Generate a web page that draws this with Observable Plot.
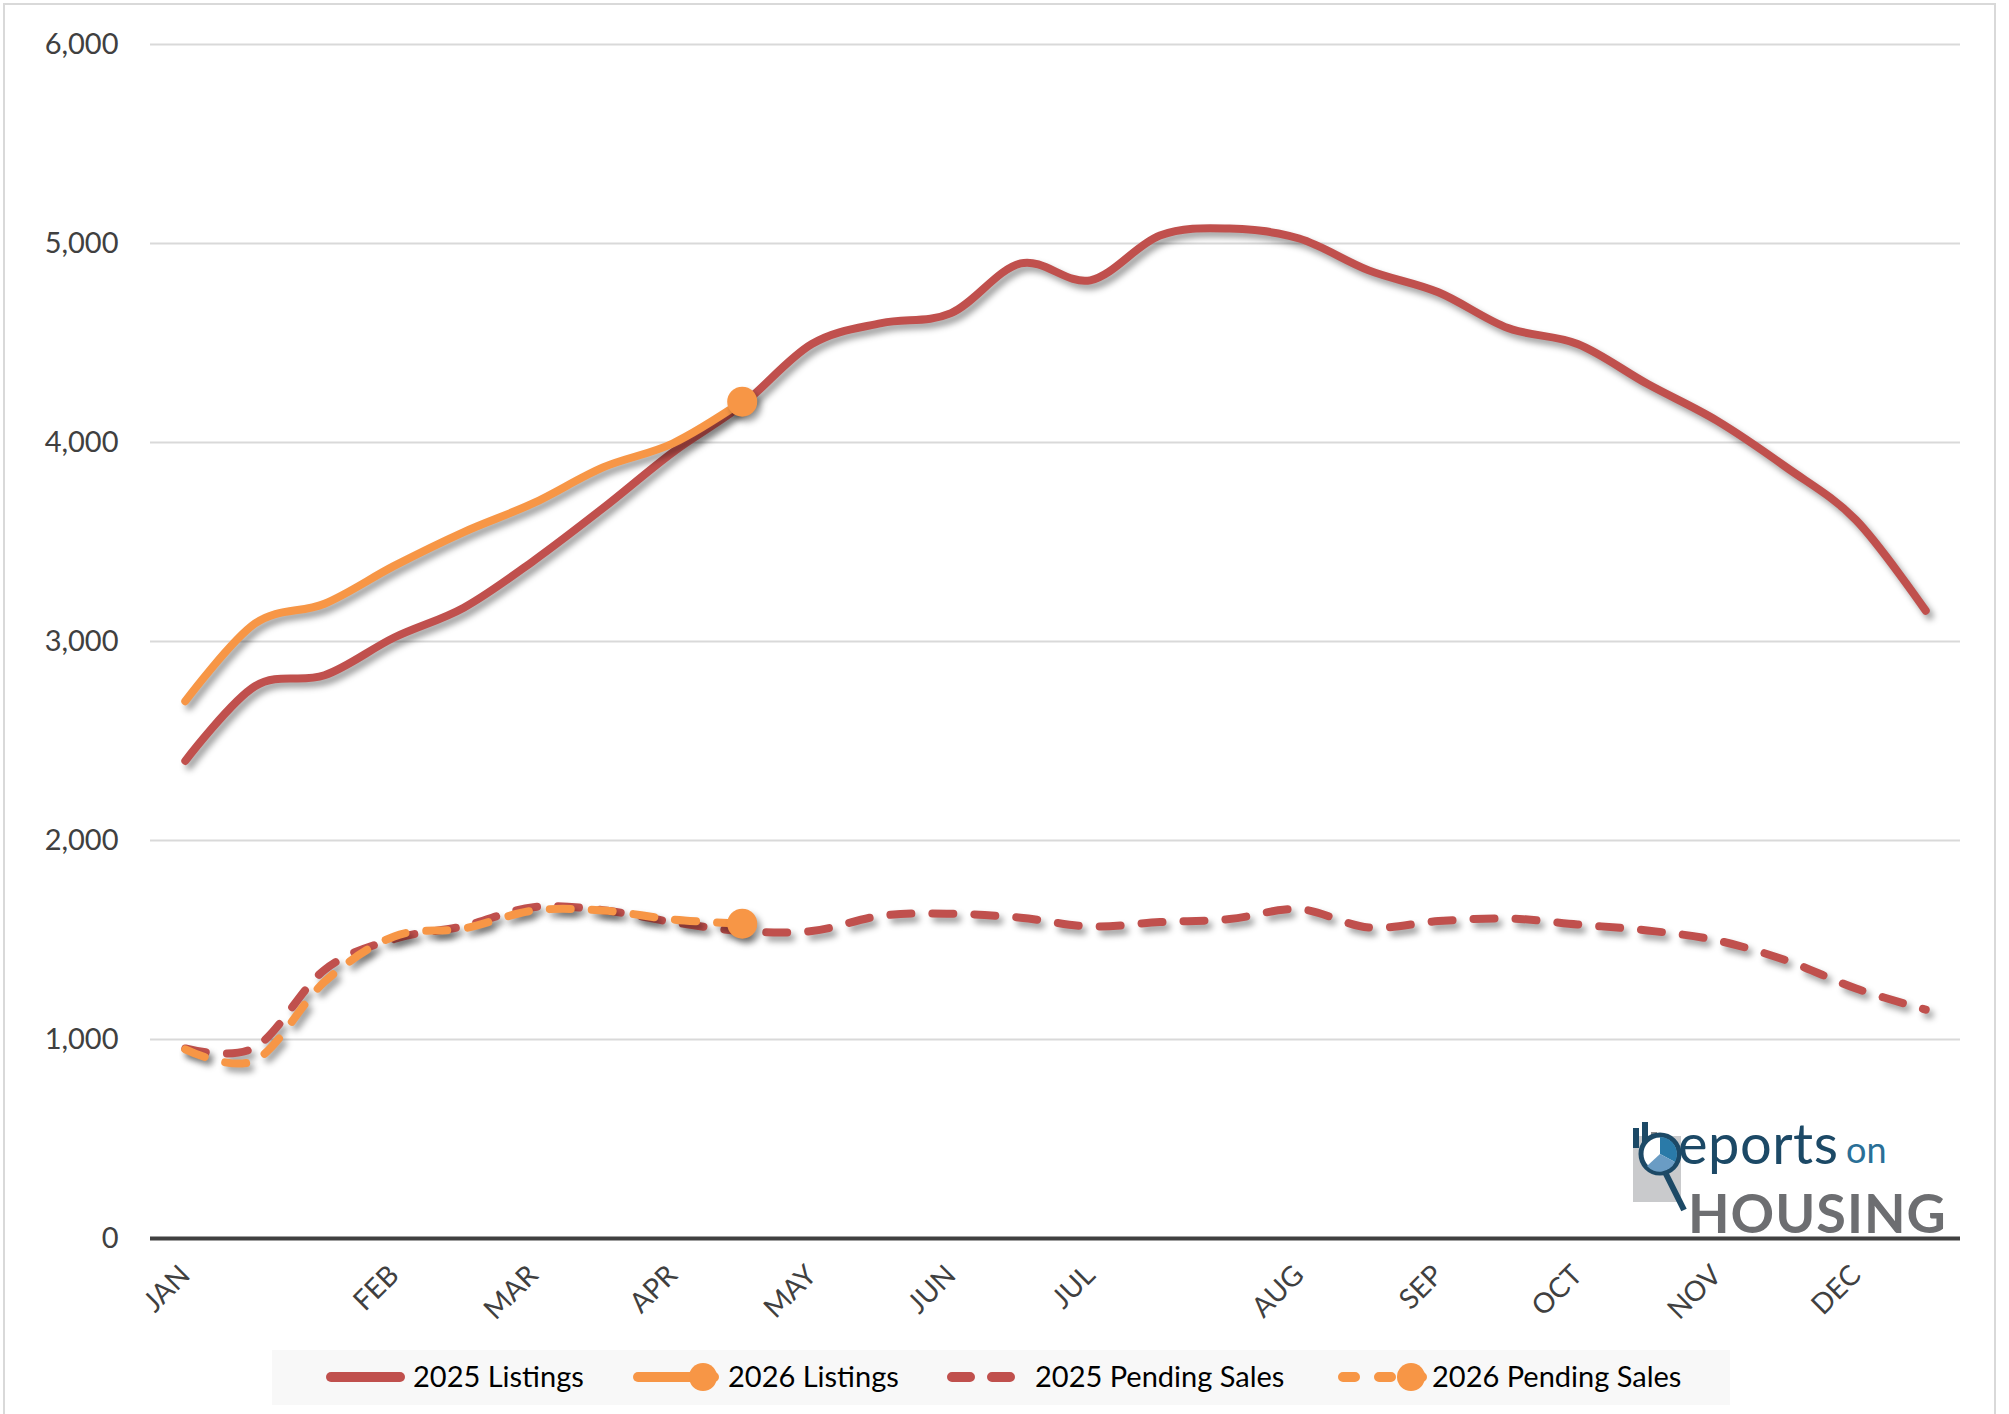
<!DOCTYPE html>
<html>
<head>
<meta charset="utf-8">
<script src="https://cdn.jsdelivr.net/npm/d3@7"></script>
<script src="https://cdn.jsdelivr.net/npm/@observablehq/plot@0.6"></script>
<style>
  html, body { margin: 0; padding: 0; background: #fff; }
  body { width: 2009px; height: 1414px; position: relative; overflow: hidden; font-family: Lato, "Open Sans", sans-serif; }
  #frame { position: absolute; left: 3px; top: 3px; width: 1993px; height: 1420px; border: 2px solid #d9d9d9; box-sizing: border-box; }
  #chart { position: absolute; left: 0; top: 0; }
  .shadow path, .shadow circle { filter: drop-shadow(4px 5px 3px rgba(0,0,0,0.38)); }
  #legend { position: absolute; left: 272px; top: 1350px; width: 1458px; height: 55px; background: #f8f8f8; }
  #legend .sw { position: absolute; top: 0; }
  #legend .lbl { position: absolute; top: 8px; font-size: 29px; color: #000; line-height: 36px; white-space: nowrap; }
  #logo { position: absolute; left: 1620px; top: 1100px; width: 340px; height: 136px; }
  #logo .rep { position: absolute; left: 58px; top: 9px; font-size: 56px; color: #1c4966; letter-spacing: 0.5px; line-height: 1.2; }
  #logo .on { position: absolute; left: 226px; top: 28px; font-size: 36px; color: #2a6f97; line-height: 1.2; }
  #logo .hous { position: absolute; left: 68px; top: 81px; font-size: 54px; font-weight: 700; color: #6d6e71; line-height: 1.2; letter-spacing: 1px; }
</style>
</head>
<body>
<div id="frame"></div>
<div id="chart"></div>
<div id="legend"></div>
<div id="logo">
  <svg width="70" height="110" style="position:absolute;left:0;top:18px">
    <rect x="13" y="18" width="48" height="66" fill="#c9cacc"></rect>
    <rect x="13" y="10" width="6" height="20" fill="#1c4966"></rect>
    <rect x="22" y="4" width="6" height="26" fill="#1c4966"></rect>
    <rect x="31" y="14" width="6" height="16" fill="#8a8b8d"></rect>
    <circle cx="40" cy="36" r="19" fill="#ffffff" stroke="#1c4966" stroke-width="5"></circle>
    <path d="M40,36 L40,19 A17,17 0 0,1 55,44 Z" fill="#2a7aa8"></path>
    <path d="M40,36 L55,44 A17,17 0 0,1 27,48 Z" fill="#6a9cc4"></path>
    <line x1="46" y1="56" x2="64" y2="92" stroke="#1c4966" stroke-width="6"></line>
  </svg>
  <div class="rep">eports</div>
  <div class="on">on</div>
  <div class="hous">HOUSING</div>
</div>
<script>
// ---- data (biweekly periods, index 0 = first period of January) ----
const monthTicks  = [0, 3, 5, 7, 9, 11, 13, 16, 18, 20, 22, 24];
const monthLabels = ["JAN", "FEB", "MAR", "APR", "MAY", "JUN", "JUL", "AUG", "SEP", "OCT", "NOV", "DEC"];

const listings2025 = [2400, 2775, 2830, 3020, 3170, 3405, 3670, 3950, 4190, 4495, 4600, 4650, 4900, 4815, 5040, 5075, 5025, 4865, 4755, 4575, 4495, 4295, 4110, 3875, 3610, 3155];
const listings2026 = [2700, 3090, 3190, 3380, 3550, 3695, 3875, 3995, 4205];
const pending2025  = [955, 960, 1350, 1505, 1570, 1665, 1650, 1590, 1545, 1545, 1622, 1632, 1612, 1568, 1590, 1605, 1655, 1563, 1595, 1608, 1578, 1548, 1498, 1397, 1256, 1150];
const pending2026  = [950, 895, 1290, 1518, 1558, 1648, 1648, 1603, 1582];

const yTicks = [0, 1000, 2000, 3000, 4000, 5000, 6000];

const RED = "#c0504d", ORANGE = "#f79646";

const toRows = arr => arr.map((v, i) => ({i, v}));
const L25 = toRows(listings2025), L26 = toRows(listings2026);
const P25 = toRows(pending2025), P26 = toRows(pending2026);

const curve = d3.curveCardinal.tension(0);

const chart = Plot.plot({
  width: 2009,
  height: 1320,
  marginLeft: 150,
  marginRight: 49,
  marginTop: 44,
  marginBottom: 82,
  style: {fontFamily: "Lato, 'Open Sans', sans-serif", fontSize: "29px", color: "#404040", background: "transparent", overflow: "visible"},
  x: {type: "linear", domain: [-0.5, listings2025.length - 0.5], axis: null},
  y: {domain: [0, 6000], axis: null},
  marks: [
    Plot.ruleY(yTicks.filter(d => d > 0), {stroke: "#d9d9d9", strokeWidth: 2}),
    Plot.axisY(yTicks, {label: null, tickSize: 0, tickPadding: 32, tickFormat: d3.format(","), fontSize: 29, fill: "#404040"}),
    Plot.axisX(monthTicks, {label: null, tickSize: 0, tickPadding: 32, tickRotate: -45, tickFormat: d => monthLabels[monthTicks.indexOf(d)], fontSize: 28, fill: "#404040"}),
    Plot.line(P25, {x: "i", y: "v", stroke: RED, strokeWidth: 8, strokeDasharray: "21,21", strokeLinecap: "round", curve, className: "shadow"}),
    Plot.line(P26, {x: "i", y: "v", stroke: ORANGE, strokeWidth: 8, strokeDasharray: "21,21", strokeLinecap: "round", curve, className: "shadow"}),
    Plot.dot(P26.slice(-1), {x: "i", y: "v", r: 15, fill: ORANGE, stroke: "none", className: "shadow"}),
    Plot.line(L25, {x: "i", y: "v", stroke: RED, strokeWidth: 8, strokeLinecap: "round", curve, className: "shadow"}),
    Plot.line(L26, {x: "i", y: "v", stroke: ORANGE, strokeWidth: 8, strokeLinecap: "round", curve, className: "shadow"}),
    Plot.dot(L26.slice(-1), {x: "i", y: "v", r: 15, fill: ORANGE, stroke: "none", className: "shadow"}),
    Plot.ruleY([0], {stroke: "#404040", strokeWidth: 4})
  ]
});
document.getElementById("chart").appendChild(chart);

// ---- legend ----
const legendItems = [
  {label: "2025 Listings", color: RED, dashed: false, marker: false, sx: 55, sw: 77, tx: 141},
  {label: "2026 Listings", color: ORANGE, dashed: false, marker: true, sx: 362, sw: 84, tx: 456},
  {label: "2025 Pending Sales", color: RED, dashed: true, marker: false, sx: 676, sw: 73, tx: 763},
  {label: "2026 Pending Sales", color: ORANGE, dashed: true, marker: true, sx: 1067, sw: 87, tx: 1160}
];
const legend = document.getElementById("legend");
for (const it of legendItems) {
  const ns = "http://www.w3.org/2000/svg";
  const svg = document.createElementNS(ns, "svg");
  svg.setAttribute("class", "sw");
  svg.setAttribute("width", it.sw + 10);
  svg.setAttribute("height", 55);
  svg.style.left = (it.sx - 5) + "px";
  const ln = document.createElementNS(ns, "line");
  ln.setAttribute("x1", 9); ln.setAttribute("x2", it.sw + 1);
  ln.setAttribute("y1", 27); ln.setAttribute("y2", 27);
  ln.setAttribute("stroke", it.color); ln.setAttribute("stroke-width", 10);
  ln.setAttribute("stroke-linecap", "round");
  if (it.dashed) ln.setAttribute("stroke-dasharray", it.marker ? "12,24" : "18,22");
  svg.appendChild(ln);
  if (it.marker) {
    const c = document.createElementNS(ns, "circle");
    c.setAttribute("cx", it.sw - 10); c.setAttribute("cy", 27); c.setAttribute("r", 14);
    c.setAttribute("fill", it.color);
    svg.appendChild(c);
  }
  legend.appendChild(svg);
  const t = document.createElement("div");
  t.className = "lbl";
  t.style.left = it.tx + "px";
  t.textContent = it.label;
  legend.appendChild(t);
}
</script>
</body>
</html>
